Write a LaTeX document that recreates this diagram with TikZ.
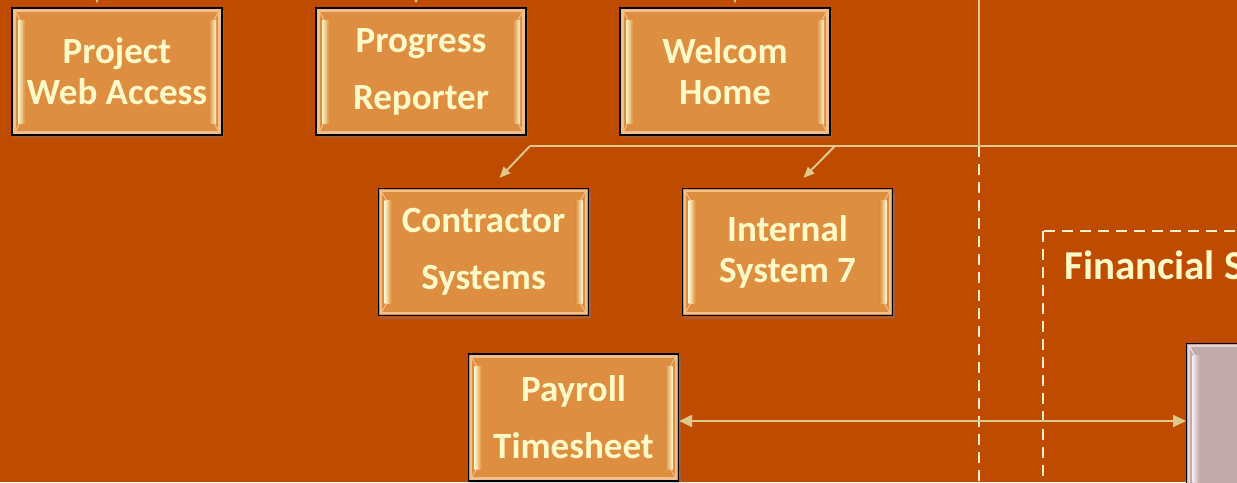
\documentclass[tikz,border=0pt]{standalone}
\usepackage{fontspec}
\setmainfont{Carlito}
\usetikzlibrary{arrows.meta,calc,shadows}
\definecolor{bg}{RGB}{191,75,0}
\definecolor{boxfill}{RGB}{222,142,64}
\definecolor{rim}{RGB}{242,190,140}
\definecolor{hl}{RGB}{255,250,205}
\definecolor{txt}{RGB}{255,250,200}
\definecolor{tan}{RGB}{222,200,140}
\definecolor{dsh}{RGB}{255,240,205}
\definecolor{greyfill}{RGB}{192,170,170}
\definecolor{greyhl}{RGB}{245,232,236}
\tikzset{
  bevelbox/.style={draw=black, line width=1.2pt, fill=boxfill, text=txt,
    minimum width=210pt, minimum height=127pt, inner sep=0pt, align=center,
    font=\bfseries\fontsize{37}{41}\selectfont,
    drop shadow={shadow xshift=2pt, shadow yshift=-3pt, opacity=0.35},
    path picture={
      \draw[rim, line width=2.5pt] ($(path picture bounding box.north west)+(2.5,2.5)$) rectangle ($(path picture bounding box.south east)+(-2.5,-2.5)$);
      \shade[left color=hl, right color=boxfill] ($(path picture bounding box.north west)+(6,12)$) rectangle ($(path picture bounding box.south west)+(13,-12)$);
      \shade[left color=boxfill, right color=hl] ($(path picture bounding box.north east)+(-13,12)$) rectangle ($(path picture bounding box.south east)+(-6,-12)$);
      \draw[rim, line width=1pt] ($(path picture bounding box.north west)+(3,3)$) -- ($(path picture bounding box.north west)+(8,12)$);
      \draw[rim, line width=1pt] ($(path picture bounding box.south west)+(3,-3)$) -- ($(path picture bounding box.south west)+(8,-12)$);
      \draw[rim, line width=1pt] ($(path picture bounding box.north east)+(-3,3)$) -- ($(path picture bounding box.north east)+(-8,12)$);
      \draw[rim, line width=1pt] ($(path picture bounding box.south east)+(-3,-3)$) -- ($(path picture bounding box.south east)+(-8,-12)$);
    }},
  greybox/.style={draw=black, line width=1.2pt, fill=greyfill,
    minimum width=200pt, minimum height=300pt, inner sep=0pt,
    path picture={
      \draw[greyhl!70!greyfill, line width=2.5pt] ($(path picture bounding box.north west)+(2.5,2.5)$) rectangle ($(path picture bounding box.south east)+(-2.5,-2.5)$);
      \shade[left color=greyhl, right color=greyfill] ($(path picture bounding box.north west)+(6,12)$) rectangle ($(path picture bounding box.south west)+(13,-12)$);
      \draw[greyhl, line width=1pt] ($(path picture bounding box.north west)+(3,3)$) -- ($(path picture bounding box.north west)+(8,12)$);
    }},
  tanline/.style={draw=tan, line width=2.2pt},
  tanarrow/.style={draw=tan, line width=2pt, -{Triangle[length=11pt,width=9pt]}},
  dblarrow/.style={draw=tan, line width=2pt, {Triangle[length=13pt,width=12pt]}-{Triangle[length=13pt,width=12pt]}},
  dashline/.style={draw=dsh, line width=2.2pt, dash pattern=on 11pt off 7pt},
  titletext/.style={text=txt, font=\bfseries\fontsize{41}{46}\selectfont, inner sep=0pt}
}
\begin{document}
\begin{tikzpicture}[x=1pt,y=-1pt]
\useasboundingbox (0,0) rectangle (1237,482);
\clip (0,0) rectangle (1237,482);
\fill[bg] (0,0) rectangle (1237,482);

% dashed lines
\coordinate (dvtop) at (979,146);
\coordinate (dvbot) at (979,490);
\draw[dashline] (dvtop) -- (dvbot);
\coordinate (frnw) at (1043,231);
\coordinate (frse) at (1400,600);
\draw[dashline] (frnw) rectangle (frse);
\node[titletext, anchor=base west] (fintitle) at (1064,279) {Financial Systems};

% nodes
\node[bevelbox] (pwa) at (117,71.5) {Project\\Web Access};
\node[bevelbox] (prog) at (421,71.5) {Progress\\[16pt]Reporter};
\node[bevelbox] (welc) at (725,71.5) {Welcom\\Home};
\node[bevelbox] (contr) at (483.5,252) {Contractor\\[16pt]Systems};
\node[bevelbox] (int7) at (787.5,252) {Internal\\System 7};
\node[bevelbox] (pay) at (573.5,417.5) {Payroll\\[16pt]Timesheet};
\node[greybox, anchor=north west] (fin) at (1186,343) {};

% tree connectors
\coordinate (vtop) at (979,-5);
\coordinate (vj) at (979,146);
\coordinate (hl) at (530,146);
\coordinate (hr) at (1245,146);
\coordinate (h2) at (835,146);
\draw[tanline] (vtop) -- (vj);
\draw[tanline] (hl) -- (hr);
\draw[tanarrow] (hl) -- ($(contr.north)+(16,-10)$);
\draw[tanarrow] (h2) -- ($(int7.north)+(16,-10)$);

% top incoming arrows
\coordinate (t1) at (97,-20);
\coordinate (t2) at (416,-20);
\coordinate (t3) at (735,-20);
\draw[tanarrow] (t1) -- ($(t1 |- pwa.north)+(0,-4)$);
\draw[tanarrow] (t2) -- ($(t2 |- prog.north)+(0,-4)$);
\draw[tanarrow] (t3) -- ($(t3 |- welc.north)+(0,-4)$);

% payroll <-> financial
\coordinate (pe) at ($(pay.east)+(0,3.5)$);
\draw[dblarrow] (pe) -- (pe -| fin.west);
\end{tikzpicture}
\end{document}
